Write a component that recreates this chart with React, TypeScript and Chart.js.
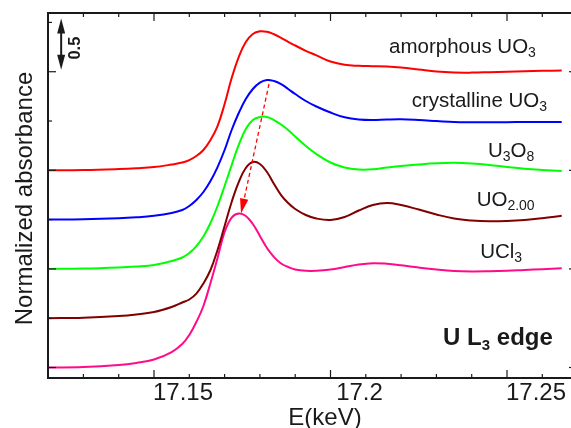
import React, { useEffect, useRef } from "react";
import { Chart, registerables } from "chart.js";
Chart.register(...registerables);

// Photon energy (keV)
const energy = [
  17.12, 17.13, 17.14, 17.145, 17.15, 17.155, 17.158, 17.16, 17.162, 17.164,
  17.166, 17.168, 17.17, 17.172, 17.174, 17.176, 17.178, 17.18, 17.182, 17.184,
  17.186, 17.188, 17.19, 17.193, 17.196, 17.2, 17.204, 17.208, 17.212, 17.216,
  17.22, 17.225, 17.23, 17.235, 17.24, 17.245, 17.25, 17.255, 17.26, 17.2655,
];

// Normalized absorbance (edge step = 1), before vertical offset
const amorphousUO3 = [
  0, 0.003, 0.013, 0.021, 0.033, 0.059, 0.079, 0.104, 0.145, 0.206,
  0.307, 0.449, 0.672, 0.936, 1.149, 1.301, 1.382, 1.41, 1.405, 1.38,
  1.344, 1.303, 1.266, 1.212, 1.166, 1.103, 1.07, 1.06, 1.056, 1.052,
  1.042, 1.022, 1.002, 0.992, 0.991, 0.995, 1.0, 1.005, 1.009, 1.012,
];
const crystallineUO3 = [
  0, 0.003, 0.013, 0.023, 0.039, 0.067, 0.097, 0.138, 0.199, 0.28,
  0.391, 0.533, 0.706, 0.909, 1.081, 1.223, 1.325, 1.39, 1.416, 1.406,
  1.375, 1.325, 1.274, 1.203, 1.147, 1.086, 1.038, 1.015, 1.01, 1.015,
  1.017, 1.01, 1.0, 0.99, 0.987, 0.987, 0.988, 0.99, 0.99, 0.99,
];
const U3O8 = [
  0, 0.003, 0.014, 0.024, 0.04, 0.08, 0.116, 0.161, 0.232, 0.329,
  0.466, 0.638, 0.841, 1.054, 1.257, 1.419, 1.51, 1.541, 1.541, 1.51,
  1.465, 1.409, 1.343, 1.246, 1.165, 1.079, 1.028, 1.008, 1.01, 1.028,
  1.044, 1.059, 1.071, 1.076, 1.069, 1.054, 1.033, 1.015, 1.003, 0.993,
];
const UO2 = [
  0, 0.005, 0.022, 0.038, 0.063, 0.114, 0.159, 0.19, 0.25, 0.352,
  0.489, 0.692, 0.935, 1.179, 1.381, 1.523, 1.584, 1.564, 1.483, 1.361,
  1.249, 1.168, 1.108, 1.047, 1.011, 0.996, 1.026, 1.092, 1.148, 1.168,
  1.148, 1.102, 1.052, 1.011, 0.991, 0.983, 0.986, 0.996, 1.014, 1.039,
];
const UCl3 = [
  0, 0.005, 0.025, 0.046, 0.081, 0.157, 0.238, 0.33, 0.461, 0.624,
  0.857, 1.111, 1.374, 1.521, 1.562, 1.537, 1.455, 1.334, 1.212, 1.12,
  1.055, 1.019, 0.994, 0.981, 0.981, 0.994, 1.019, 1.045, 1.058, 1.052,
  1.037, 1.014, 0.994, 0.979, 0.974, 0.976, 0.981, 0.989, 0.997, 1.006,
];

const seriesValues = [amorphousUO3, crystallineUO3, U3O8, UO2, UCl3];
const seriesNames = ["amorphous UO3", "crystalline UO3", "U3O8", "UO2.00", "UCl3"];
const offsets = [2.0, 1.5, 1.0, 0.5, 0];
const colors = ["#ff0000", "#0000ff", "#00ff00", "#800000", "#ff0a88"];

// Rich labels: [text, isSubscript]
const seriesLabelParts: [string, boolean][][] = [
  [["amorphous UO", false], ["3", true]],
  [["crystalline UO", false], ["3", true]],
  [["U", false], ["3", true], ["O", false], ["8", true]],
  [["UO", false], ["2.00", true]],
  [["UCl", false], ["3", true]],
];
// anchor (keV, absorbance) of each label's left baseline
const seriesLabelX = [17.2166, 17.223, 17.2446, 17.2414, 17.2424];
const seriesLabelY = [3.187, 2.639, 2.138, 1.641, 1.108];

const xTickValues = [17.15, 17.2, 17.25];
const xTickLabels = ["17.15", "17.2", "17.25"];
const yTickValues = [0, 0.5, 1, 1.5, 2, 2.5, 3, 3.5];

const X_MIN = 17.11997;
const X_MAX = 17.26983;
const Y_MIN = -0.1065;
const Y_MAX = 3.5956;

const FONT = '"Liberation Sans", Arial, Helvetica, sans-serif';

function drawRich(ctx: CanvasRenderingContext2D, parts: [string, boolean][], x: number, y: number, size: number, subSize: number, subShift: number, bold: boolean) {
  let cx = x;
  ctx.textAlign = "left";
  ctx.textBaseline = "alphabetic";
  for (const [t, sub] of parts) {
    ctx.font = `${bold ? "bold " : ""}${sub ? subSize : size}px ${FONT}`;
    ctx.fillText(t, cx, sub ? y + subShift : y);
    cx += ctx.measureText(t).width;
  }
}

function arrowHead(ctx: CanvasRenderingContext2D, tx: number, ty: number, fx: number, fy: number, len: number, half: number) {
  const dx = tx - fx, dy = ty - fy;
  const d = Math.hypot(dx, dy);
  const ux = dx / d, uy = dy / d;
  const bx = tx - ux * len, by = ty - uy * len;
  ctx.beginPath();
  ctx.moveTo(tx, ty);
  ctx.lineTo(bx - uy * half, by + ux * half);
  ctx.lineTo(bx + uy * half, by - ux * half);
  ctx.closePath();
  ctx.fill();
  return [bx, by];
}

const framePlugin = {
  id: "frame",
  afterDatasetsDraw(chart: any) {
    const { ctx, chartArea: a, scales } = chart;
    const px = (v: number) => scales.x.getPixelForValue(v);
    const py = (v: number) => scales.y.getPixelForValue(v);
    ctx.save();
    ctx.strokeStyle = "#1a1a1a";
    ctx.fillStyle = "#1a1a1a";
    const seg = (x1: number, y1: number, x2: number, y2: number) => {
      ctx.beginPath();
      ctx.moveTo(x1, y1);
      ctx.lineTo(x2, y2);
      ctx.stroke();
    };
    // ticks
    ctx.lineWidth = 1.2;
    for (let i = 13; i <= 26; i++) {
      const v = 17 + i / 100;
      const major = i % 5 === 0;
      const len = major ? 8 : 4;
      const x = px(v);
      seg(x, a.bottom, x, a.bottom - len);
      seg(x, a.top, x, a.top + len);
    }
    yTickValues.forEach((v, i) => {
      const len = i % 2 === 0 ? 8 : 4;
      const y = py(v);
      seg(a.left, y, a.left + len, y);
      seg(a.right, y, a.right - len, y);
    });
    // frame
    ctx.lineWidth = 2;
    ctx.strokeRect(a.left, a.top, a.right - a.left, a.bottom - a.top);

    // tick labels
    ctx.font = `24px ${FONT}`;
    ctx.textAlign = "center";
    ctx.textBaseline = "alphabetic";
    xTickValues.forEach((v, i) => {
      ctx.fillText(xTickLabels[i], px(v) + 29, 400);
    });
    // axis titles
    ctx.fillText("E(keV)", 325, 425);
    ctx.save();
    ctx.translate(31.5, 198.5);
    ctx.rotate(-Math.PI / 2);
    ctx.fillText("Normalized absorbance", 0, 0);
    ctx.restore();

    // scale bar (0.5 units)
    const sx = px(17.1237);
    const sTop = py(3.54), sBot = py(3.02);
    ctx.lineWidth = 2;
    seg(sx, sTop + 10, sx, sBot - 10);
    arrowHead(ctx, sx, sTop, sx, sBot, 15, 4);
    arrowHead(ctx, sx, sBot, sx, sTop, 15, 4);
    ctx.save();
    ctx.translate(sx + 19, (sTop + sBot) / 2 + 4);
    ctx.rotate(-Math.PI / 2);
    ctx.font = `bold 16.5px ${FONT}`;
    ctx.textAlign = "center";
    ctx.fillText("0.5", 0, 0);
    ctx.restore();

    // series labels
    ctx.fillStyle = "#1a1a1a";
    seriesLabelParts.forEach((parts, i) => {
      drawRich(ctx, parts, px(seriesLabelX[i]), py(seriesLabelY[i]), 20.5, 14, 4, false);
    });
    // edge label
    drawRich(ctx, [["U L", false], ["3", true], [" edge", false]], px(17.2319), py(0.228), 24, 15, 5, true);

    // dashed red arrow (edge shift)
    const x1 = px(17.18258), y1 = py(2.8755);
    const x2 = px(17.17465), y2 = py(1.562);
    ctx.strokeStyle = "#ff0000";
    ctx.fillStyle = "#ff0000";
    ctx.lineWidth = 1.3;
    const [bx, by] = arrowHead(ctx, x2, y2, x1, y1, 15, 4.2);
    ctx.setLineDash([4, 3]);
    seg(x1, y1, bx, by);
    ctx.setLineDash([]);
    ctx.restore();
  },
};

export default function App() {
  const ref = useRef<HTMLCanvasElement>(null);
  useEffect(() => {
    const canvas = ref.current;
    if (!canvas) return;
    let chart: Chart | null = null;
    let cancelled = false;
    const build = () => {
      if (cancelled) return;
      const datasets = seriesValues.map((vals, i) => ({
        label: seriesNames[i],
        data: energy.map((e, j) => ({ x: e, y: vals[j] + offsets[i] })),
        borderColor: colors[i],
        backgroundColor: colors[i],
        borderWidth: 2,
        pointRadius: 0,
        fill: false,
        tension: 0.4,
      }));
      chart = new Chart(canvas, {
        type: "line",
        data: { datasets },
        options: {
          animation: false,
          responsive: false,
          devicePixelRatio: 1,
          layout: { padding: { left: 48, top: 13, right: 8, bottom: 50 } },
          plugins: { legend: { display: false }, tooltip: { enabled: false } },
          scales: {
            x: { type: "linear", min: X_MIN, max: X_MAX, display: false },
            y: { type: "linear", min: Y_MIN, max: Y_MAX, display: false },
          },
        },
        plugins: [framePlugin],
      });
    };
    const fonts: any = (document as any).fonts;
    if (fonts && fonts.load) {
      Promise.all([
        fonts.load('24px "Liberation Sans"'),
        fonts.load('bold 24px "Liberation Sans"'),
      ]).then(build, build);
    } else {
      build();
    }
    return () => {
      cancelled = true;
      if (chart) chart.destroy();
    };
  }, []);
  return (
    <div style={{ position: "fixed", left: 0, top: 0, width: 571, height: 428, overflow: "hidden", background: "#fff" }}>
      <canvas ref={ref} width={585} height={428} style={{ display: "block" }} />
    </div>
  );
}
